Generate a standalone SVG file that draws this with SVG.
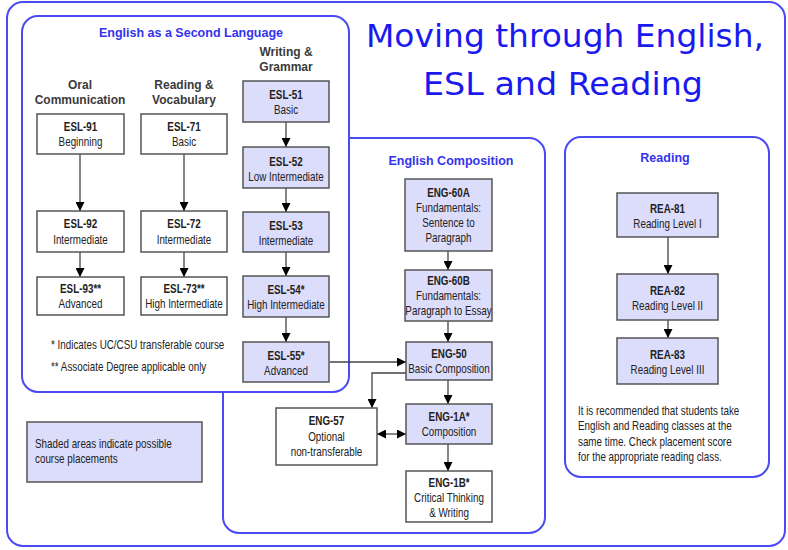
<svg xmlns="http://www.w3.org/2000/svg" width="788" height="550" viewBox="0 0 788 550">
<style>
.panel{fill:#fff;stroke:#4a4af5;stroke-width:2}
.box{fill:#dcdcfb;stroke:#555;stroke-width:1.5}
.wbox{fill:#fff;stroke:#555;stroke-width:1.5}
.code,.sub{font-family:"Liberation Sans",Arial,sans-serif;font-size:12px;fill:#222;text-anchor:middle;transform-box:fill-box;transform-origin:center;transform:scaleX(0.82)}
.code{font-weight:bold}
.note{font-family:"Liberation Sans",Arial,sans-serif;font-size:12px;fill:#222;transform-box:fill-box;transform-origin:left center;transform:scaleX(0.82)}
.hdr{font-family:"Liberation Sans",Arial,sans-serif;font-weight:bold;font-size:12.5px;fill:#3333ee;text-anchor:middle}
.col{font-family:"Liberation Sans",Arial,sans-serif;font-weight:bold;font-size:12px;fill:#3a3a3a;text-anchor:middle}
.title{font-family:"Comic Sans MS","DejaVu Sans",sans-serif;font-size:32px;fill:#1a1aee;text-anchor:middle}
.conn{fill:none;stroke:#444;stroke-width:1.3}
</style>
<defs>
<marker id="ah" viewBox="0 0 10 10" refX="10" refY="5" markerWidth="9" markerHeight="9" markerUnits="userSpaceOnUse" orient="auto-start-reverse">
<path d="M0,0 L10,5 L0,10 Z" fill="#000"/>
</marker>
</defs>
<rect x="0" y="0" width="788" height="550" fill="#fff"/>
<rect id="outer" class="panel" x="7" y="2" width="778" height="544" rx="16"/>
<text class="title" x="565" y="47" textLength="398" lengthAdjust="spacingAndGlyphs">Moving through English,</text>
<text class="title" x="563" y="95" textLength="280" lengthAdjust="spacingAndGlyphs">ESL and Reading</text>

<g id="panel-comp">
<rect class="panel" x="223" y="138" width="322" height="395" rx="16"/>
<text class="hdr" x="451" y="165">English Composition</text>
</g>
<g id="panel-esl">
<rect class="panel" x="22" y="16" width="327" height="376" rx="16"/>
<text class="hdr" x="191" y="37">English as a Second Language</text>
<text class="col" x="80" y="89">Oral</text>
<text class="col" x="80" y="104">Communication</text>
<text class="col" x="184" y="89">Reading &amp;</text>
<text class="col" x="184" y="104">Vocabulary</text>
<text class="col" x="286" y="56">Writing &amp;</text>
<text class="col" x="286" y="71">Grammar</text>
<text class="note" x="51" y="349">* Indicates UC/CSU transferable course</text>
<text class="note" x="51" y="371">** Associate Degree applicable only</text>
</g>
<g id="panel-reading">
<rect class="panel" x="565" y="137" width="204" height="340" rx="16"/>
<text class="hdr" x="665" y="162">Reading</text>
<text class="note" x="578" y="415">It is recommended that students take</text>
<text class="note" x="578" y="430">English and Reading classes at the</text>
<text class="note" x="578" y="446">same time. Check placement score</text>
<text class="note" x="578" y="461">for the appropriate reading class.</text>
</g>

<g id="connectors">
<line class="conn" x1="80" y1="154" x2="80" y2="211" marker-end="url(#ah)"/>
<line class="conn" x1="80" y1="252" x2="80" y2="277" marker-end="url(#ah)"/>
<line class="conn" x1="184" y1="154" x2="184" y2="211" marker-end="url(#ah)"/>
<line class="conn" x1="184" y1="252" x2="184" y2="277" marker-end="url(#ah)"/>
<line class="conn" x1="286" y1="122" x2="286" y2="147" marker-end="url(#ah)"/>
<line class="conn" x1="286" y1="188" x2="286" y2="212" marker-end="url(#ah)"/>
<line class="conn" x1="286" y1="252" x2="286" y2="276" marker-end="url(#ah)"/>
<line class="conn" x1="286" y1="317" x2="286" y2="342" marker-end="url(#ah)"/>
<line class="conn" x1="330" y1="362" x2="406" y2="362" marker-end="url(#ah)"/>
<line class="conn" x1="448" y1="251" x2="448" y2="270" marker-end="url(#ah)"/>
<line class="conn" x1="448" y1="321" x2="448" y2="342" marker-end="url(#ah)"/>
<line class="conn" x1="448" y1="380" x2="448" y2="404" marker-end="url(#ah)"/>
<line class="conn" x1="448" y1="444" x2="448" y2="471" marker-end="url(#ah)"/>
<polyline class="conn" points="406,373 372,373 372,408" marker-end="url(#ah)"/>
<line class="conn" x1="377" y1="434" x2="406" y2="434" marker-start="url(#ah)" marker-end="url(#ah)"/>
<line class="conn" x1="668" y1="237" x2="668" y2="274" marker-end="url(#ah)"/>
<line class="conn" x1="668" y1="320" x2="668" y2="338" marker-end="url(#ah)"/>
</g>

<g id="esl-91"><rect class="wbox" x="37" y="114" width="87" height="40"/><text class="code" x="80.5" y="131">ESL-91</text><text class="sub" x="80.5" y="146">Beginning</text></g>
<g id="esl-92"><rect class="wbox" x="37" y="211" width="87" height="41"/><text class="code" x="80.5" y="228">ESL-92</text><text class="sub" x="80.5" y="244">Intermediate</text></g>
<g id="esl-93"><rect class="wbox" x="37" y="277" width="87" height="38"/><text class="code" x="80.5" y="293">ESL-93**</text><text class="sub" x="80.5" y="308">Advanced</text></g>
<g id="esl-71"><rect class="wbox" x="141" y="114" width="86" height="40"/><text class="code" x="184" y="131">ESL-71</text><text class="sub" x="184" y="146">Basic</text></g>
<g id="esl-72"><rect class="wbox" x="141" y="211" width="86" height="41"/><text class="code" x="184" y="228">ESL-72</text><text class="sub" x="184" y="244">Intermediate</text></g>
<g id="esl-73"><rect class="wbox" x="141" y="277" width="86" height="38"/><text class="code" x="184" y="293">ESL-73**</text><text class="sub" x="184" y="308">High Intermediate</text></g>
<g id="esl-51"><rect class="box" x="243" y="81" width="86" height="41"/><text class="code" x="286" y="99">ESL-51</text><text class="sub" x="286" y="114">Basic</text></g>
<g id="esl-52"><rect class="box" x="243" y="147" width="86" height="41"/><text class="code" x="286" y="166">ESL-52</text><text class="sub" x="286" y="181">Low Intermediate</text></g>
<g id="esl-53"><rect class="box" x="243" y="212" width="86" height="40"/><text class="code" x="286" y="230">ESL-53</text><text class="sub" x="286" y="245">Intermediate</text></g>
<g id="esl-54"><rect class="box" x="243" y="276" width="86" height="41"/><text class="code" x="286" y="294">ESL-54*</text><text class="sub" x="286" y="309">High Intermediate</text></g>
<g id="esl-55"><rect class="box" x="243" y="342" width="86" height="40"/><text class="code" x="286" y="360">ESL-55*</text><text class="sub" x="286" y="375">Advanced</text></g>

<g id="eng-60a"><rect class="box" x="405" y="179" width="87" height="72"/><text class="code" x="448.5" y="197">ENG-60A</text><text class="sub" x="448.5" y="212">Fundamentals:</text><text class="sub" x="448.5" y="227">Sentence to</text><text class="sub" x="448.5" y="242">Paragraph</text></g>
<g id="eng-60b"><rect class="box" x="405" y="270" width="87" height="51"/><text class="code" x="448.5" y="285">ENG-60B</text><text class="sub" x="448.5" y="300">Fundamentals:</text><text class="sub" x="448.5" y="315">Paragraph to Essay</text></g>
<g id="eng-50"><rect class="box" x="406" y="342" width="86" height="38"/><text class="code" x="449" y="358">ENG-50</text><text class="sub" x="449" y="373">Basic Composition</text></g>
<g id="eng-1a"><rect class="box" x="406" y="404" width="86" height="40"/><text class="code" x="449" y="421">ENG-1A*</text><text class="sub" x="449" y="436">Composition</text></g>
<g id="eng-1b"><rect class="wbox" x="406" y="471" width="86" height="51"/><text class="code" x="449" y="487">ENG-1B*</text><text class="sub" x="449" y="502">Critical Thinking</text><text class="sub" x="449" y="517">&amp; Writing</text></g>
<g id="eng-57"><rect class="wbox" x="276" y="408" width="101" height="57"/><text class="code" x="326.5" y="425">ENG-57</text><text class="sub" x="326.5" y="441">Optional</text><text class="sub" x="326.5" y="456">non-transferable</text></g>

<g id="rea-81"><rect class="box" x="617" y="193" width="101" height="44"/><text class="code" x="667.5" y="213">REA-81</text><text class="sub" x="667.5" y="228">Reading Level I</text></g>
<g id="rea-82"><rect class="box" x="617" y="274" width="101" height="46"/><text class="code" x="667.5" y="295">REA-82</text><text class="sub" x="667.5" y="310">Reading Level II</text></g>
<g id="rea-83"><rect class="box" x="617" y="338" width="101" height="46"/><text class="code" x="667.5" y="359">REA-83</text><text class="sub" x="667.5" y="374">Reading Level III</text></g>

<g id="legend"><rect class="box" x="27" y="422" width="175" height="60"/><text class="note" x="35" y="448">Shaded areas indicate possible</text><text class="note" x="35" y="463">course placements</text></g>
</svg>
